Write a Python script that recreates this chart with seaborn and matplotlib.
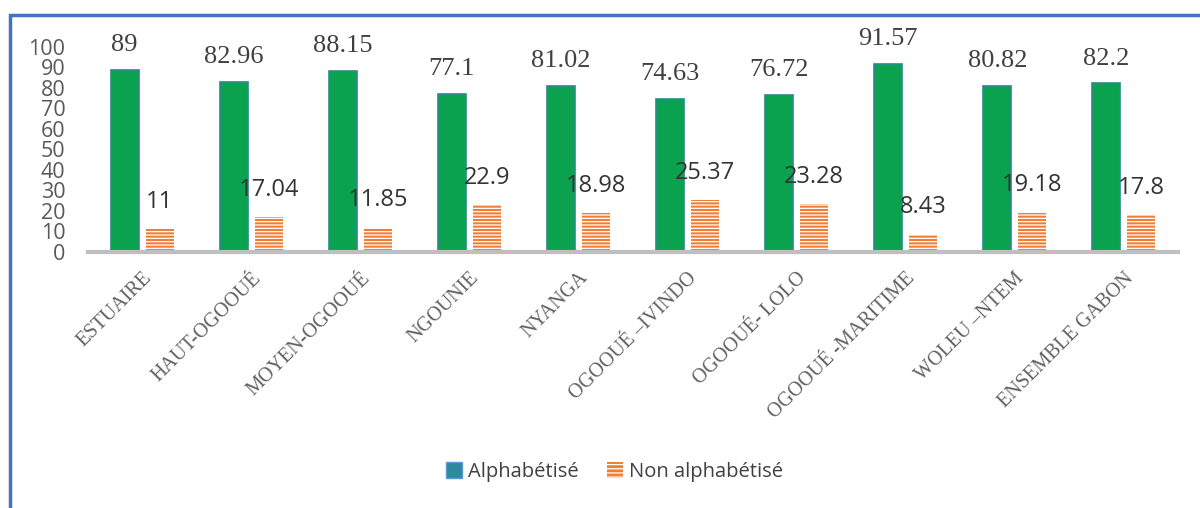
import matplotlib
matplotlib.use("Agg")
import matplotlib.pyplot as plt
import seaborn as sns
import pandas as pd
from matplotlib.patches import Rectangle, Patch

# Data
provinces = ["ESTUAIRE", "HAUT-OGOOUÉ", "MOYEN-OGOOUÉ", "NGOUNIE", "NYANGA",
             "OGOOUÉ –IVINDO", "OGOOUÉ- LOLO", "OGOOUÉ -MARITIME",
             "WOLEU –NTEM", "ENSEMBLE GABON"]
alphabetise = [89, 82.96, 88.15, 77.1, 81.02, 74.63, 76.72, 91.57, 80.82, 82.2]
non_alphabetise = [11, 17.04, 11.85, 22.9, 18.98, 25.37, 23.28, 8.43, 19.18, 17.8]
series_names = ["Alphabétisé", "Non alphabétisé"]
y_ticks = [0, 10, 20, 30, 40, 50, 60, 70, 80, 90, 100]

df = pd.DataFrame({
    "province": provinces * 2,
    "taux": alphabetise + non_alphabetise,
    "statut": [series_names[0]] * len(provinces) + [series_names[1]] * len(provinces),
})

green = "#0AA24F"
green_edge = "#2A8A8C"
orange = "#F07F35"

sns.set_style("white")
plt.rcParams["hatch.linewidth"] = 0.9

fig = plt.figure(figsize=(12, 5.08), dpi=100)
ax = fig.add_axes([0.073, 0.504, 0.909, 0.4035])

sns.barplot(data=df, x="province", y="taux", hue="statut", ax=ax,
            palette=[green, orange], width=0.64, gap=0.2, legend=False,
            saturation=1)

# style the bars: green with teal edge, orange with thin white stripes
for bar in ax.containers[0]:
    bar.set_edgecolor(green_edge)
    bar.set_linewidth(1.2)
for bar in ax.containers[1]:
    bar.set_facecolor(orange)
    bar.set_edgecolor("white")
    bar.set_hatch("-----")
    bar.set_linewidth(0)

# value labels
ax.bar_label(ax.containers[0], labels=[f"{v:g}" for v in alphabetise],
             padding=10, fontsize=19, family="Liberation Serif", color="#404040")
ax.bar_label(ax.containers[1], labels=[f"{v:g}" for v in non_alphabetise],
             padding=11, fontsize=17, family="Open Sans", color="#333333")

ax.set_ylim(0, 100)
ax.set_yticks(y_ticks)
ax.set_yticklabels([str(t) for t in y_ticks], fontsize=15.5, family="Open Sans",
                   color="#595959")
ax.set_xlim(-0.5, len(provinces) - 0.5)
ax.set_xticks(range(len(provinces)))
ax.set_xticklabels(provinces, rotation=45, ha="right", rotation_mode="anchor",
                   fontsize=14.5, family="Liberation Serif", color="#606060")
ax.tick_params(axis="both", length=0)
ax.tick_params(axis="x", pad=12)
ax.tick_params(axis="y", pad=16)
ax.set_xlabel("")
ax.set_ylabel("")

sns.despine(ax=ax, left=True, top=True, right=True)
ax.spines["bottom"].set_color("#BFBFBF")
ax.spines["bottom"].set_linewidth(3)

# legend
handles = [Patch(facecolor="#2B8A9E", edgecolor="#5B9BD5", label=series_names[0]),
           Patch(facecolor=orange, edgecolor="white", hatch="----", linewidth=0,
                 label=series_names[1])]
fig.legend(handles=handles, loc="center", bbox_to_anchor=(0.512, 0.071), ncol=2,
           frameon=False, handlelength=0.8, handleheight=0.8, handletextpad=0.3,
           columnspacing=1.4, prop={"family": "Open Sans", "size": 14.5},
           labelcolor="#404040")

# blue frame around the chart area
fig.patches.append(Rectangle((10 / 1200, -0.1), 1.2, 1 - 15 / 508 + 0.1,
                             transform=fig.transFigure, fill=False,
                             edgecolor="#4472C4", linewidth=2.5))

fig.savefig("out.png", dpi=100)
